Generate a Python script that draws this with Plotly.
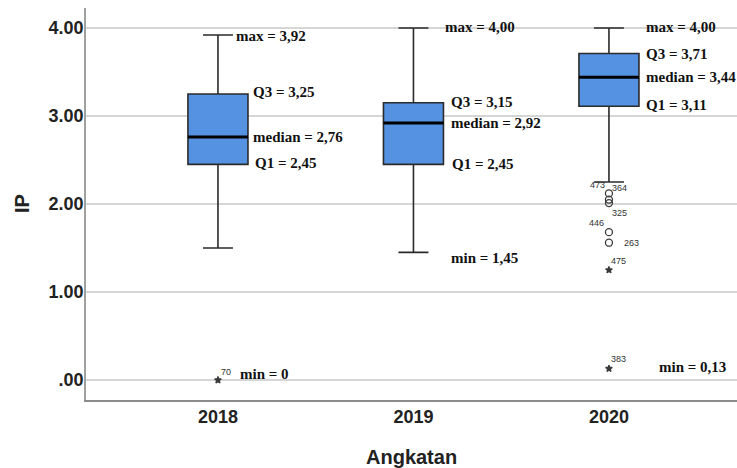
import plotly.graph_objects as go

# Grade index (IP) distribution per cohort (Angkatan)
years = ["2018", "2019", "2020"]
q1 = [2.45, 2.45, 3.11]
median = [2.76, 2.92, 3.44]
q3 = [3.25, 3.15, 3.71]
lower_whisker = [1.50, 1.45, 2.25]
upper_whisker = [3.92, 4.00, 4.00]

# Outliers: value, case id, kind ("o" = outlier, "*" = extreme)
outlier_year = [0, 2, 2, 2, 2, 2, 2, 2]
outlier_value = [0.00, 2.12, 2.05, 2.01, 1.68, 1.56, 1.25, 0.13]
outlier_id = ["70", "473", "364", "325", "446", "263", "475", "383"]
outlier_kind = ["*", "o", "o", "o", "o", "o", "*", "*"]

y_ticks = [0, 1, 2, 3, 4]
y_ticklabels = [".00", "1.00", "2.00", "3.00", "4.00"]

BOX_W = 0.307
FILL = "#5592e2"
EDGE = "#2b2b2b"
SERIF = "Liberation Serif, Times New Roman, serif"
SANS = "Liberation Sans, Arial, sans-serif"


def fmt(v):
    return "0" if v == 0 else f"{v:.2f}".replace(".", ",")


fig = go.Figure()

for i, yr in enumerate(years):
    fig.add_trace(go.Box(
        x=[i], q1=[q1[i]], median=[median[i]], q3=[q3[i]],
        lowerfence=[lower_whisker[i]], upperfence=[upper_whisker[i]],
        width=BOX_W, whiskerwidth=0.5, boxpoints=False,
        fillcolor=FILL, line=dict(color=EDGE, width=1.6),
        showlegend=False, hoverinfo="skip",
    ))
    # heavy median bar
    fig.add_trace(go.Scatter(
        x=[i - BOX_W / 2, i + BOX_W / 2], y=[median[i], median[i]],
        mode="lines", line=dict(color="#000000", width=3),
        showlegend=False, hoverinfo="skip",
    ))

# outlier markers
for kind, sym, size in [("o", "circle-open", 7), ("*", "star", 5)]:
    idx = [k for k, t in enumerate(outlier_kind) if t == kind]
    fig.add_trace(go.Scatter(
        x=[outlier_year[k] for k in idx],
        y=[outlier_value[k] for k in idx],
        mode="markers",
        marker=dict(symbol=sym, size=size, color="#3a3a3a",
                    line=dict(color="#3a3a3a", width=1.3)),
        showlegend=False, hoverinfo="skip",
    ))

# case-id labels beside the outliers (pixel offsets from each point)
id_offset = {
    "70": (8, 8), "473": (-11, 8), "364": (11, 12), "325": (11, -10),
    "446": (-12, 9), "263": (23, 0), "475": (10, 9), "383": (10, 10),
}
annotations = []
for k, cid in enumerate(outlier_id):
    dx, dy = id_offset[cid]
    annotations.append(dict(
        x=outlier_year[k], y=outlier_value[k], text=cid, showarrow=False,
        xshift=dx, yshift=dy, font=dict(family=SANS, size=9, color="#333333"),
    ))

# summary statistic labels
minimum = []
for i in range(len(years)):
    vals = [outlier_value[k] for k in range(len(outlier_value)) if outlier_year[k] == i]
    minimum.append(min([lower_whisker[i]] + vals))

stat_shift = {
    # name: per-year (xshift px from box centre, yshift px)
    "max": [(16, -1), (30, 1), (35, 1)],
    "Q3": [(33, 2), (36, 1), (35, 0)],
    "median": [(33, 0), (36, 0), (35, 0)],
    "Q1": [(35, 1), (37, 0), (35, 1)],
    "min": [(20, 6), (36, -6), (48, 2)],
}
stat_values = {"max": upper_whisker, "Q3": q3, "median": median, "Q1": q1, "min": minimum}
for name, vals in stat_values.items():
    for i, v in enumerate(vals):
        dx, dy = stat_shift[name][i]
        annotations.append(dict(
            x=i, y=v, text=f"{name} = {fmt(v)}", showarrow=False,
            xanchor="left", yanchor="middle", xshift=dx, yshift=dy,
            font=dict(family=SERIF, size=15, color="#111111", weight="bold"),
        ))

# axis titles
annotations.append(dict(
    xref="paper", yref="paper", x=0, y=0.5, text="IP", showarrow=False,
    textangle=-90, xanchor="center", yanchor="middle", xshift=-64,
    font=dict(family=SANS, size=20, color="#222222", weight="bold"),
))
annotations.append(dict(
    xref="paper", yref="paper", x=0.5, y=0, text="Angkatan", showarrow=False,
    xanchor="center", yanchor="top", yshift=-44,
    font=dict(family=SANS, size=20, color="#222222", weight="bold"),
))

fig.update_layout(
    width=737, height=468,
    margin=dict(l=86, r=0, t=8, b=68),
    paper_bgcolor="white", plot_bgcolor="white",
    annotations=annotations,
    xaxis=dict(
        range=[-0.675, 2.655], tickvals=list(range(len(years))), ticktext=years,
        showgrid=False, zeroline=False, showline=True,
        linecolor="#8c8c8c", linewidth=1.5, ticks="",
        tickfont=dict(family=SANS, size=18, color="#222222", weight="bold"),
    ),
    yaxis=dict(
        range=[-0.227, 4.227], tickvals=y_ticks, ticktext=y_ticklabels,
        showgrid=True, gridcolor="#d6d6d6", gridwidth=1.5, zeroline=False,
        showline=True, linecolor="#a0a0a0", linewidth=1.5, ticks="",
        ticklabelstandoff=-3,
        tickfont=dict(family=SANS, size=18, color="#222222", weight="bold"),
    ),
)

fig.write_html("out.html")
